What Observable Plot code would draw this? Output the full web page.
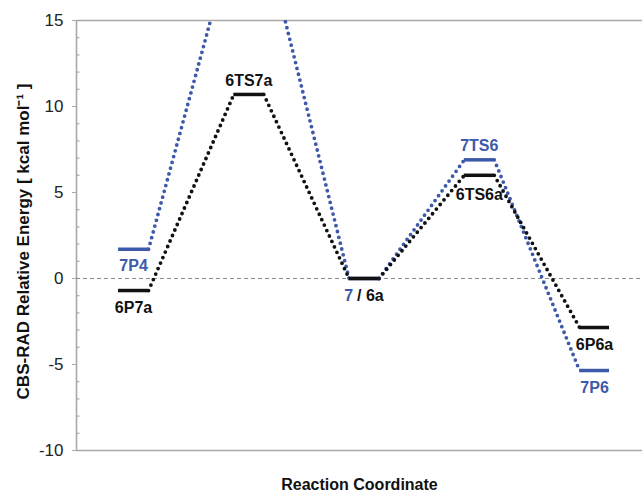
<!DOCTYPE html>
<html><head><meta charset="utf-8">
<script src="https://cdn.jsdelivr.net/npm/d3@7"></script>
<script src="https://cdn.jsdelivr.net/npm/@observablehq/plot@0.6"></script>
<style>body{margin:0;background:#fff} svg{display:block}</style>
</head><body><div id="chart"></div>
<script>
// Reaction coordinate steps
const steps = [1, 2, 3, 4, 5];
// Black series (6 ... a)
const blackEnergy = [-0.7, 10.7, 0, 6.0, -2.85];
const blackNames = ["6P7a", "6TS7a", "/ 6a", "6TS6a", "6P6a"];
// Blue series (7 ...)
const blueEnergy = [1.7, 20.0, 0, 6.9, -5.35];
const blueNames = ["7P4", "7TS4", "7", "7TS6", "7P6"];
// Axis
const yTicks = [-10, -5, 0, 5, 10, 15];
const yMinor = d3.range(-10, 16).filter(v => v % 5 !== 0);
const yLabel = "CBS-RAD Relative Energy [ kcal mol⁻¹ ]";
const xLabel = "Reaction Coordinate";

const BLUE = "#3d59a9", BLACK = "#111111", GRID = "#a9a9a9";
const hw = 0.13;
const xDom = [0.505, 5.416];
const yDom = [-10, 15];

function segs(vals, series) {
  return d3.range(vals.length - 1).map(i => ({
    x1: steps[i] + hw, y1: vals[i], x2: steps[i + 1] - hw, y2: vals[i + 1], series
  }));
}
function levels(vals, names, series) {
  return vals.map((v, i) => ({x: steps[i], y: v, name: names[i], series}));
}
const blackLv = levels(blackEnergy, blackNames, "black");
const blueLv = levels(blueEnergy, blueNames, "blue");
const allLv = [...blueLv, ...blackLv].filter(d => d.y <= yDom[1]);
const above = new Set(["6TS7a", "7TS6"]);
const lower = new Set(["6TS6a"]);
const col = d => d.series === "blue" ? BLUE : BLACK;

const font = "'Liberation Sans', Arial, sans-serif";
const lab = {x: "x", y: "y", text: "name", fill: col, fontSize: 16, fontWeight: "bold"};
const dots = {x1: "x1", y1: "y1", x2: "x2", y2: "y2", strokeWidth: 3.8, strokeDasharray: "0 6", strokeLinecap: "round", clip: true};

const chart = Plot.plot({
  width: 642,
  height: 493,
  marginLeft: 76,
  marginRight: 0,
  marginTop: 20,
  marginBottom: 43,
  x: {domain: xDom, axis: null},
  y: {domain: yDom, axis: null},
  style: {fontFamily: font, background: "#fff"},
  marks: [
    // frame
    Plot.ruleY(yDom, {stroke: GRID, strokeWidth: 1.6}),
    Plot.ruleX([xDom[0]], {stroke: GRID, strokeWidth: 1.6}),
    // minor ticks (inside)
    Plot.ruleY(yMinor, {x1: xDom[0], x2: xDom[0] + 0.03, stroke: GRID, strokeWidth: 1.2}),
    // major ticks and labels
    Plot.axisY({ticks: yTicks, tickSize: 4, tickPadding: 9, stroke: GRID, fontSize: 17, fill: "#222", tickFormat: d => String(d)}),
    // zero dashed line
    Plot.ruleY([0], {stroke: "#8a8a8a", strokeWidth: 1, strokeDasharray: "4,3"}),
    // connectors
    Plot.link(segs(blueEnergy, "blue"), {...dots, stroke: BLUE}),
    Plot.link(segs(blackEnergy, "black"), {...dots, stroke: BLACK}),
    // levels
    Plot.ruleY(blueLv, {y: "y", x1: d => d.x - hw, x2: d => d.x + hw, stroke: BLUE, strokeWidth: 3.5, clip: true}),
    Plot.ruleY(blackLv, {y: "y", x1: d => d.x - hw, x2: d => d.x + hw, stroke: BLACK, strokeWidth: 3.5}),
    // labels above
    Plot.text(allLv.filter(d => above.has(d.name)), {...lab, dy: -14}),
    // labels below
    Plot.text(allLv.filter(d => !above.has(d.name) && !lower.has(d.name) && d.x !== 3), {...lab, dy: 17}),
    Plot.text(allLv.filter(d => lower.has(d.name)), {...lab, dy: 20}),
    // middle combined label "7 / 6a"
    Plot.text(blueLv.filter(d => d.x === 3), {...lab, dy: 17, dx: -11, textAnchor: "end"}),
    Plot.text(blackLv.filter(d => d.x === 3), {...lab, dy: 17, dx: -7, textAnchor: "start"}),
    // axis titles
    Plot.text([yLabel], {frameAnchor: "left", textAnchor: "middle", dx: -53, dy: 6, rotate: -90, fontSize: 17, fontWeight: "bold", fill: "#111"}),
    Plot.text([xLabel], {frameAnchor: "bottom", dy: 39, fontSize: 16, fontWeight: "bold", fill: "#111"})
  ]
});
document.getElementById("chart").appendChild(chart);
</script>
</body></html>
